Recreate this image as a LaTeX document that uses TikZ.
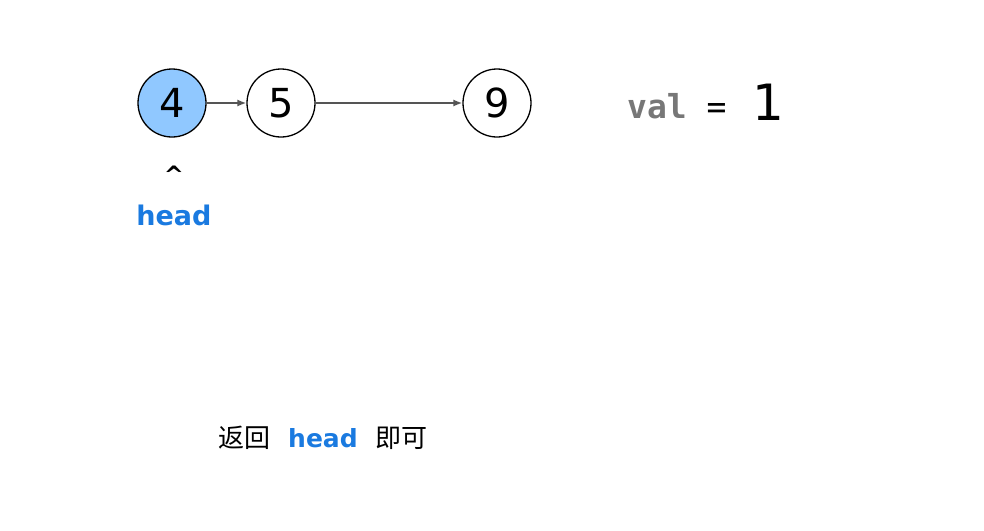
\documentclass[tikz,border=0pt]{standalone}
\usepackage{fontspec}
\setmainfont{DejaVu Sans}
\newfontfamily\cjk{Noto Sans CJK SC}
\newfontfamily\monob{DejaVu Sans Mono}
\definecolor{nodeblue}{HTML}{90C8FF}
\definecolor{headblue}{HTML}{1A7AE0}
\definecolor{arrowgray}{HTML}{555555}
\definecolor{valgray}{HTML}{777777}
\usetikzlibrary{arrows.meta}
\tikzset{
  lnode/.style={circle, draw=black, line width=1.3pt, minimum size=68pt, inner sep=0pt, font=\fontsize{40}{42}\selectfont},
  link/.style={draw=arrowgray, line width=1.5pt, -{Latex[length=9pt,width=7pt]}},
}
\begin{document}
\begin{tikzpicture}[x=1pt,y=-1pt]
\useasboundingbox[fill=white] (0,0) rectangle (984,530);
\node[lnode, fill=nodeblue] (n4) at (172,103) {4};
\node[lnode, fill=white] (n5) at (281,103) {5};
\node[lnode, fill=white] (n9) at (497,103) {9};
\draw[link] (n4) -- (n5);
\draw[link] (n5) -- (n9);
\node[anchor=base west, inner sep=0pt, font=\monob\fontsize{33}{35}\selectfont] (val) at (627,118) {\textcolor{valgray}{\bfseries val} =};
\node[anchor=base west, inner sep=0pt, font=\fontsize{50}{52}\selectfont] (one) at (752,120) {1};
\node[inner sep=0pt, font=\bfseries\fontsize{24}{26}\selectfont] (caret) at (174,175) {\textasciicircum};
\node[anchor=base, inner sep=0pt, text=headblue, font=\bfseries\fontsize{27}{29}\selectfont] (head) at (174,225) {head};
\node[anchor=base west, inner sep=0pt, font=\fontsize{25}{27}\selectfont] (ret) at (218,447) {{\cjk\fontsize{26}{28}\selectfont 返回}\hspace{18pt}\textcolor{headblue}{\bfseries head}\hspace{18pt}{\cjk\fontsize{26}{28}\selectfont 即可}};
\end{tikzpicture}
\end{document}
